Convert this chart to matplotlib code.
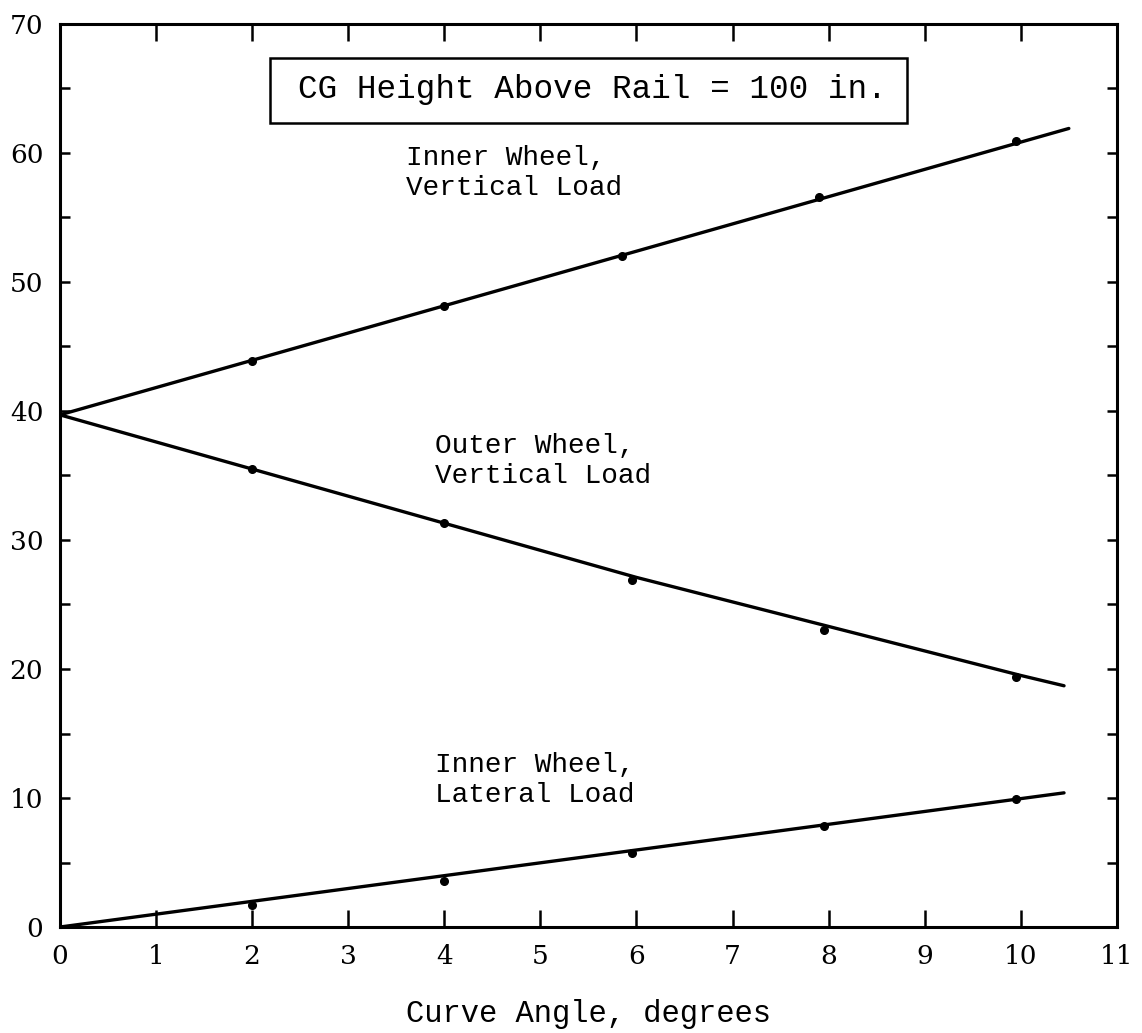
import matplotlib.pyplot as plt
from matplotlib.patches import Rectangle
from matplotlib.ticker import MultipleLocator

# Curve angle (deg) where measured points sit
inner_vert_x = [0, 2.0, 4.0, 5.85, 7.9, 9.95]
inner_vert_y = [39.7, 43.9, 48.1, 52.0, 56.6, 60.9]
outer_vert_x = [0, 2.0, 4.0, 5.95, 7.95, 9.95]
outer_vert_y = [39.7, 35.5, 31.3, 26.9, 23.0, 19.4]
inner_lat_x = [0, 2.0, 4.0, 5.95, 7.95, 9.95]
inner_lat_y = [0.0, 1.7, 3.6, 5.7, 7.8, 9.9]

# fitted lines, drawn a little past the last point
inner_vert_line_x = [0, 10.5]
inner_vert_line_y = [39.7, 61.9]
outer_vert_line_x = [0, 2.0, 4.0, 6.0, 8.0, 10.0, 10.45]
outer_vert_line_y = [39.7, 35.5, 31.3, 27.1, 23.3, 19.5, 18.7]
inner_lat_line_x = [0, 10.45]
inner_lat_line_y = [0.0, 10.4]

mono = "Liberation Mono"
serif = "DejaVu Serif"

fig = plt.figure(figsize=(11.42, 10.33), dpi=100)
ax = fig.add_axes([0.0525, 0.1026, 0.9255, 0.8742])

for lx, ly, px, py in [
    (inner_vert_line_x, inner_vert_line_y, inner_vert_x, inner_vert_y),
    (outer_vert_line_x, outer_vert_line_y, outer_vert_x, outer_vert_y),
    (inner_lat_line_x, inner_lat_line_y, inner_lat_x, inner_lat_y),
]:
    ax.plot(lx, ly, color="black", lw=2.4, solid_capstyle="round")
    ax.plot(px[1:], py[1:], "o", color="black", ms=5.5)

ax.set_xlim(0, 11)
ax.set_ylim(0, 70)
ax.xaxis.set_major_locator(MultipleLocator(1))
ax.yaxis.set_major_locator(MultipleLocator(10))
ax.yaxis.set_minor_locator(MultipleLocator(5))

ax.tick_params(axis="x", which="major", direction="in", top=True, length=12,
               width=1.8, pad=12, labelsize=19)
ax.tick_params(axis="y", which="both", direction="in", right=True, length=7,
               width=1.8, pad=12, labelsize=19)
for lab in ax.get_xticklabels() + ax.get_yticklabels():
    lab.set_fontfamily(serif)
for s in ax.spines.values():
    s.set_linewidth(2.2)

ax.set_xlabel("Curve Angle, degrees", family=mono, fontsize=22, labelpad=22)

# boxed note
ax.add_patch(Rectangle((2.19, 62.3), 6.63, 5.1, fill=False, ec="black", lw=1.8))
ax.text(5.54, 64.9, "CG Height Above Rail = 100 in.", family=mono, fontsize=23.5,
        ha="center", va="center")

ax.text(3.6, 60.6, "Inner Wheel,\nVertical Load", family=mono, fontsize=20,
        ha="left", va="top", linespacing=1.2)
ax.text(3.9, 38.3, "Outer Wheel,\nVertical Load", family=mono, fontsize=20,
        ha="left", va="top", linespacing=1.2)
ax.text(3.9, 13.6, "Inner Wheel,\nLateral Load", family=mono, fontsize=20,
        ha="left", va="top", linespacing=1.2)

fig.savefig("out.png", dpi=100)
